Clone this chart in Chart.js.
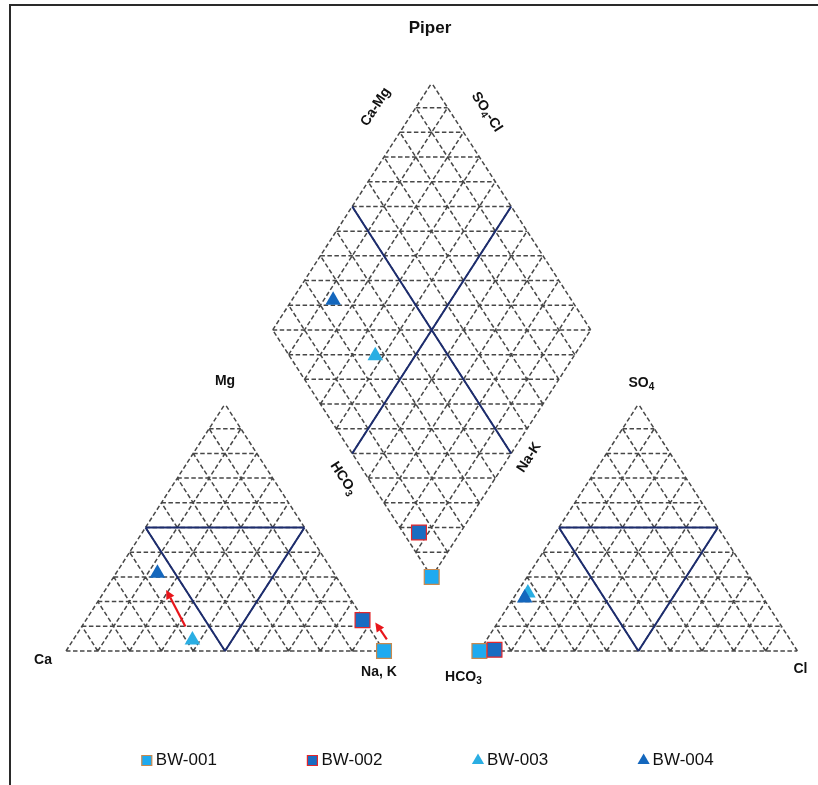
<!DOCTYPE html>
<html>
<head>
<meta charset="utf-8">
<script src="https://cdn.jsdelivr.net/npm/chart.js@4.4.1/dist/chart.umd.min.js"></script>
<style>
  html, body { margin: 0; padding: 0; background: #fff; }
  canvas { display: block; }
</style>
</head>
<body>
<canvas id="piper-chart" width="818" height="785"></canvas>
<script>
// major ion shares per sample, % of meq/L
var samples = ['BW-001', 'BW-002', 'BW-003', 'BW-004'];
var ca   = [0,   0.5,  58,   55.5];
var mg   = [0,   12.5, 4.5,  31.5];
var naK  = [100, 87,   37.5, 13];
var hco3 = [100, 95,   73,   75];
var so4  = [0,   0.5,  23.5, 21.5];
var cl   = [0,   4.5,  3.5,  3.5];

var fills   = ['#1eaaf0', '#1a6cc2', '#2aaee3', '#1467bd'];
var borders = ['#c8894e', '#e3262b', '#2aaee3', '#1467bd'];
var shapes  = ['rect', 'rect', 'triangle', 'triangle'];
var sizes   = [10.5, 10.5, 9, 9];

// diagram units: triangle side = 100
var H = 0.866;
var GAP = 30;
var AN = 100 + GAP;          // left corner of anion triangle
var BX = 100 + GAP / 2;      // bottom corner of diamond
var BY = GAP * H;

function cationPt(i) {
    return {x: naK[i] + mg[i] / 2, y: mg[i] * H};
}
function anionPt(i) {
    return {x: AN + cl[i] + so4[i] / 2, y: so4[i] * H};
}
// a = Ca+Mg share, b = SO4+Cl share
function dia(a, b) {
    return [BX - 50 * a + 50 * b, BY + 100 * H * (a + b)];
}
function diamondPt(i) {
    var p = dia((100 - naK[i]) / 100, (so4[i] + cl[i]) / 100);
    return {x: p[0], y: p[1]};
}

var datasets = samples.map(function (name, i) {
    return {
        label: name,
        data: [cationPt(i), anionPt(i), diamondPt(i)],
        pointStyle: shapes[i],
        pointRadius: sizes[i],
        pointHoverRadius: sizes[i],
        backgroundColor: fills[i],
        borderColor: borders[i],
        borderWidth: i < 2 ? 1.2 : 0,
        order: samples.length - i,
        clip: false
    };
});

var labels = [
    {text: 'Ca', at: [0, 0], dx: -23, dy: 9, rot: 0},
    {text: 'Mg', at: [50, 100 * H], dx: 0, dy: -23, rot: 0},
    {text: 'Na, K', at: [100, 0], dx: -5, dy: 21, rot: 0},
    {text: 'HCO_3', at: [AN, 0], dx: -16, dy: 26, rot: 0},
    {text: 'Cl', at: [AN + 100, 0], dx: 3, dy: 18, rot: 0},
    {text: 'SO_4', at: [AN + 50, 100 * H], dx: 3, dy: -21, rot: 0},
    {text: 'Ca-Mg', at: dia(1, 1), dx: -56, dy: 24, rot: -57},
    {text: 'SO_4-Cl', at: dia(1, 1), dx: 55, dy: 29, rot: 57},
    {text: 'HCO_3', at: dia(0.5, 0), dx: -9, dy: 25, rot: 57},
    {text: 'Na-K', at: dia(0, 0.5), dx: 18, dy: 4, rot: -57}
];

// red arrows in the cation triangle: from sample -> to sample
var arrows = [
    {from: 2, to: 3, t0: 0.2, t1: 0.75, dx: 0},
    {from: 0, to: 1, t0: 0.38, t1: 0.92, dx: 11}
];

function px(chart, p) {
    return [chart.scales.x.getPixelForValue(p[0]), chart.scales.y.getPixelForValue(p[1])];
}

function line(chart, ctx, p, q) {
    var a = px(chart, p), b = px(chart, q);
    ctx.moveTo(a[0], a[1]);
    ctx.lineTo(b[0], b[1]);
}

function triangleGrid(chart, ctx, ox) {
    for (var i = 0; i < 10; i++) {
        var t = i / 10;
        line(chart, ctx, [ox + 50 * t, 100 * H * t], [ox + 100 - 50 * t, 100 * H * t]);
        line(chart, ctx, [ox + 100 * t, 0], [ox + 100 * t + 50 * (1 - t), 100 * H * (1 - t)]);
        line(chart, ctx, [ox + 100 * (1 - t), 0], [ox + 50 * (1 - t), 100 * H * (1 - t)]);
    }
}

function diamondGrid(chart, ctx) {
    for (var i = 0; i <= 10; i++) {
        var t = i / 10;
        line(chart, ctx, dia(t, 0), dia(t, 1));
        line(chart, ctx, dia(0, t), dia(1, t));
    }
    for (var k = 1; k < 20; k++) {
        var s = k / 10;
        if (s <= 1) line(chart, ctx, dia(s, 0), dia(0, s));
        else line(chart, ctx, dia(1, s - 1), dia(s - 1, 1));
    }
}

function drawLabel(ctx, text, x, y, rot) {
    var big = 'bold 14px "Liberation Sans", Arial, sans-serif';
    var small = 'bold 10px "Liberation Sans", Arial, sans-serif';
    var parts = text.split(/_(\d)/).map(function (t, j) { return {t: t, sub: j % 2 === 1}; });
    var w = 0;
    parts.forEach(function (p) { ctx.font = p.sub ? small : big; w += ctx.measureText(p.t).width; });
    ctx.save();
    ctx.translate(x, y);
    ctx.rotate(rot * Math.PI / 180);
    ctx.textAlign = 'left';
    ctx.textBaseline = 'middle';
    ctx.fillStyle = '#111';
    var cx = -w / 2;
    parts.forEach(function (p) {
        ctx.font = p.sub ? small : big;
        ctx.fillText(p.t, cx, p.sub ? 4 : 0);
        cx += ctx.measureText(p.t).width;
    });
    ctx.restore();
}

var piperFrame = {
    id: 'piperFrame',
    beforeDraw: function (chart) {
        var ctx = chart.ctx;
        ctx.save();
        ctx.strokeStyle = '#2a2a2a';
        ctx.lineWidth = 2;
        ctx.beginPath();
        ctx.moveTo(10, 785);
        ctx.lineTo(10, 5);
        ctx.lineTo(818, 5);
        ctx.stroke();
        ctx.restore();
    },
    beforeDatasetsDraw: function (chart) {
        var ctx = chart.ctx;
        ctx.save();
        ctx.strokeStyle = '#474747';
        ctx.lineWidth = 1.5;
        ctx.setLineDash([4.5, 2.5]);
        ctx.beginPath();
        triangleGrid(chart, ctx, 0);
        triangleGrid(chart, ctx, AN);
        diamondGrid(chart, ctx);
        ctx.stroke();

        ctx.setLineDash([]);
        ctx.strokeStyle = '#1c2c6e';
        ctx.lineWidth = 2;
        ctx.beginPath();
        [0, AN].forEach(function (ox) {
            var p = [[ox + 25, 50 * H], [ox + 75, 50 * H], [ox + 50, 0]];
            line(chart, ctx, p[0], p[1]);
            line(chart, ctx, p[1], p[2]);
            line(chart, ctx, p[2], p[0]);
        });
        line(chart, ctx, dia(0.5, 0), dia(0.5, 1));
        line(chart, ctx, dia(0, 0.5), dia(1, 0.5));
        ctx.stroke();

        labels.forEach(function (l) {
            var p = px(chart, l.at);
            drawLabel(ctx, l.text, p[0] + l.dx, p[1] + l.dy, l.rot);
        });
        ctx.restore();
    },
    afterDatasetsDraw: function (chart) {
        var ctx = chart.ctx;
        ctx.save();
        ctx.strokeStyle = '#e8151b';
        ctx.fillStyle = '#e8151b';
        ctx.lineWidth = 2.2;
        arrows.forEach(function (a) {
            var p = cationPt(a.from), q = cationPt(a.to);
            var s = px(chart, [p.x + (q.x - p.x) * a.t0, p.y + (q.y - p.y) * a.t0]);
            var e = px(chart, [p.x + (q.x - p.x) * a.t1, p.y + (q.y - p.y) * a.t1]);
            s[0] += a.dx; e[0] += a.dx;
            var ang = Math.atan2(e[1] - s[1], e[0] - s[0]);
            var hl = 9, hw = 4.5;
            var bx = e[0] - hl * Math.cos(ang), by = e[1] - hl * Math.sin(ang);
            ctx.beginPath();
            ctx.moveTo(s[0], s[1]);
            ctx.lineTo(bx, by);
            ctx.stroke();
            ctx.beginPath();
            ctx.moveTo(e[0], e[1]);
            ctx.lineTo(bx + hw * Math.sin(ang), by - hw * Math.cos(ang));
            ctx.lineTo(bx - hw * Math.sin(ang), by + hw * Math.cos(ang));
            ctx.closePath();
            ctx.fill();
        });
        ctx.restore();
    }
};

var config = {
    type: 'scatter',
    data: { datasets: datasets },
    options: {
        responsive: false,
        animation: false,
        events: [],
        layout: { autoPadding: false, padding: { left: 42, right: 0, top: 8, bottom: 6 } },
        scales: {
            // 3.18 px per unit across, 2.852 px per unit up
            x: { type: 'linear', display: false, min: -7.55, max: 236.48 },
            y: { type: 'linear', display: false, min: -2.1, max: 211.29 }
        },
        plugins: {
            title: {
                display: true,
                text: 'Piper',
                color: '#111',
                font: { family: '"Liberation Sans", Arial, sans-serif', size: 17, weight: 'bold' },
                padding: { top: 10, bottom: 10 }
            },
            legend: {
                position: 'bottom',
                labels: {
                    usePointStyle: true,
                    boxWidth: 1,
                    boxHeight: 10,
                    padding: 95,
                    color: '#111',
                    font: { family: '"Liberation Sans", Arial, sans-serif', size: 17 },
                    sort: function (a, b) { return a.datasetIndex - b.datasetIndex; }
                }
            },
            tooltip: { enabled: false }
        }
    },
    plugins: [piperFrame]
};

var ctx = document.getElementById('piper-chart').getContext('2d');
window.piperChart = new Chart(ctx, config);
</script>
</body>
</html>
